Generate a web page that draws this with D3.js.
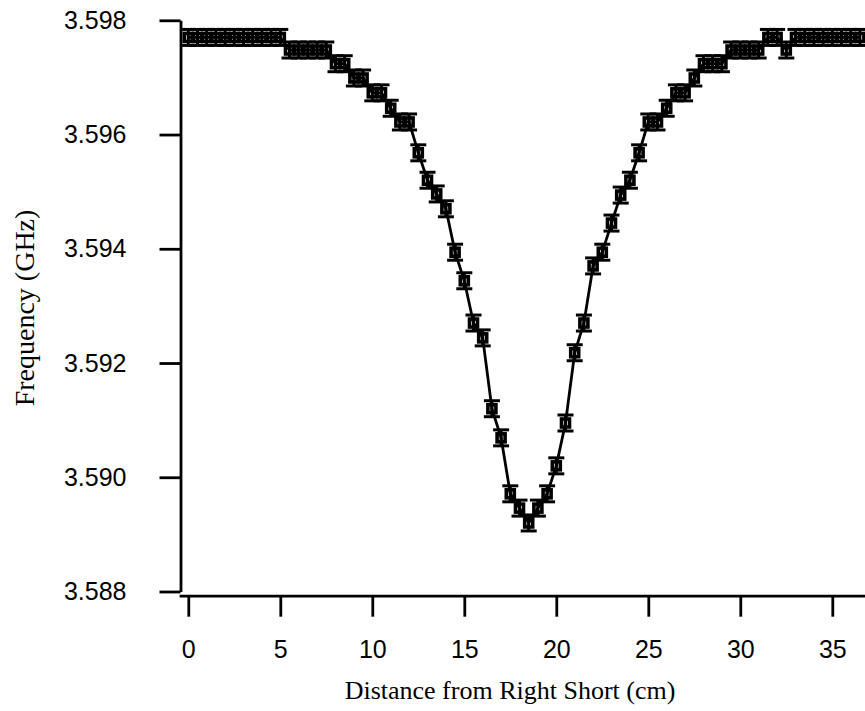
<!DOCTYPE html>
<html>
<head>
<meta charset="utf-8">
<script src="https://cdn.jsdelivr.net/npm/d3@7/dist/d3.min.js"></script>
<style>
  html, body { margin: 0; padding: 0; background: #fff; }
  svg { display: block; }
</style>
</head>
<body>
<svg id="chart" width="865" height="711"></svg>
<script>
// Distance from right short (cm)
const distances = [
  0, 0.5, 1, 1.5, 2, 2.5, 3, 3.5, 4, 4.5, 5, 5.5, 6, 6.5, 7, 7.5, 8, 8.5, 9, 9.5,
  10, 10.5, 11, 11.5, 12, 12.5, 13, 13.5, 14, 14.5, 15, 15.5, 16, 16.5, 17, 17.5,
  18, 18.5, 19, 19.5, 20, 20.5, 21, 21.5, 22, 22.5, 23, 23.5, 24, 24.5, 25, 25.5,
  26, 26.5, 27, 27.5, 28, 28.5, 29, 29.5, 30, 30.5, 31, 31.5, 32, 32.5, 33, 33.5,
  34, 34.5, 35, 35.5, 36, 36.5
];
// Frequency (GHz)
const frequencies = [
  3.59770, 3.59770, 3.59770, 3.59770, 3.59770, 3.59770, 3.59770, 3.59770, 3.59770, 3.59770,
  3.59770, 3.59748, 3.59748, 3.59748, 3.59748, 3.59748, 3.59724, 3.59724, 3.59699, 3.59699,
  3.59673, 3.59673, 3.59646, 3.59622, 3.59622, 3.59568, 3.59520, 3.59496, 3.59470, 3.59394,
  3.59344, 3.59270, 3.59244, 3.59120, 3.59069, 3.58971, 3.58946, 3.58920, 3.58946, 3.58971,
  3.59020, 3.59095, 3.59218, 3.59270, 3.59370, 3.59394, 3.59445, 3.59494, 3.59520, 3.59568,
  3.59622, 3.59622, 3.59646, 3.59673, 3.59673, 3.59699, 3.59724, 3.59724, 3.59724, 3.59748,
  3.59748, 3.59748, 3.59748, 3.59770, 3.59770, 3.59748, 3.59770, 3.59770, 3.59770, 3.59770,
  3.59770, 3.59770, 3.59770, 3.59770
];
// Measurement uncertainty (GHz), same for every point
const errorGHz = 0.00014;

const xTicks = [0, 5, 10, 15, 20, 25, 30, 35];
const yTicks = [3.588, 3.590, 3.592, 3.594, 3.596, 3.598];
const xTitle = "Distance from Right Short (cm)";
const yTitle = "Frequency (GHz)";

const data = distances.map((d, i) => ({ x: d, y: frequencies[i], e: errorGHz }));

const svg = d3.select("#chart");

const x = d3.scaleLinear().domain([-0.5, 37]).range([179.1, 869.1]);
const y = d3.scaleLinear().domain([3.588, 3.598]).range([591.5, 20.3]);

const axisFont = "'Liberation Sans', Arial, sans-serif";
const titleFont = "'Liberation Serif', 'Times New Roman', serif";

// Y axis
const yAxis = svg.append("g")
  .attr("transform", "translate(180.5,0)")
  .call(d3.axisLeft(y).tickValues(yTicks).tickFormat(d3.format(".3f"))
    .tickSize(21).tickSizeOuter(0).tickPadding(33));
// X axis
const xAxis = svg.append("g")
  .attr("transform", "translate(0,595.7)")
  .call(d3.axisBottom(x).tickValues(xTicks).tickFormat(d3.format("d"))
    .tickSize(21).tickSizeOuter(0).tickPadding(24));

[yAxis, xAxis].forEach(g => {
  g.select(".domain").attr("stroke", "#000").attr("stroke-width", 2.8);
  g.selectAll(".tick line").attr("stroke", "#000").attr("stroke-width", 2.8);
  g.selectAll(".tick text").attr("fill", "#000")
    .style("font-family", axisFont).style("font-size", "25px");
});

// Axis titles
svg.append("text")
  .attr("x", 510).attr("y", 699)
  .attr("text-anchor", "middle")
  .style("font-family", titleFont).style("font-size", "26px")
  .attr("fill", "#000")
  .text(xTitle);

svg.append("text")
  .attr("transform", "translate(34,308) rotate(-90)")
  .attr("text-anchor", "middle")
  .style("font-family", titleFont).style("font-size", "28px")
  .attr("fill", "#000")
  .text(yTitle);

// Connecting line
const line = d3.line().x(d => x(d.x)).y(d => y(d.y));
svg.append("path")
  .datum(data)
  .attr("d", line)
  .attr("fill", "none")
  .attr("stroke", "#000")
  .attr("stroke-width", 2.8);

// Error bars
const capHalf = 8;
const eb = svg.append("g").attr("stroke", "#000").attr("stroke-width", 3);
eb.selectAll("line.v").data(data).join("line").attr("class", "v")
  .attr("x1", d => x(d.x)).attr("x2", d => x(d.x))
  .attr("y1", d => y(d.y + d.e)).attr("y2", d => y(d.y - d.e));
eb.selectAll("line.t").data(data).join("line").attr("class", "t")
  .attr("x1", d => x(d.x) - capHalf).attr("x2", d => x(d.x) + capHalf)
  .attr("y1", d => y(d.y + d.e)).attr("y2", d => y(d.y + d.e));
eb.selectAll("line.b").data(data).join("line").attr("class", "b")
  .attr("x1", d => x(d.x) - capHalf).attr("x2", d => x(d.x) + capHalf)
  .attr("y1", d => y(d.y - d.e)).attr("y2", d => y(d.y - d.e));

// Square markers (hollow, thick stroke)
const ms = 8;
svg.append("g").selectAll("rect").data(data).join("rect")
  .attr("x", d => x(d.x) - ms / 2).attr("y", d => y(d.y) - ms / 2)
  .attr("width", ms).attr("height", ms)
  .attr("fill", "none").attr("stroke", "#000").attr("stroke-width", 3.6);
// error bar line through the marker centre
svg.append("g").selectAll("line").data(data).join("line")
  .attr("x1", d => x(d.x)).attr("x2", d => x(d.x))
  .attr("y1", d => y(d.y) - ms / 2).attr("y2", d => y(d.y) + ms / 2)
  .attr("stroke", "#000").attr("stroke-width", 2.2);
</script>
</body>
</html>
